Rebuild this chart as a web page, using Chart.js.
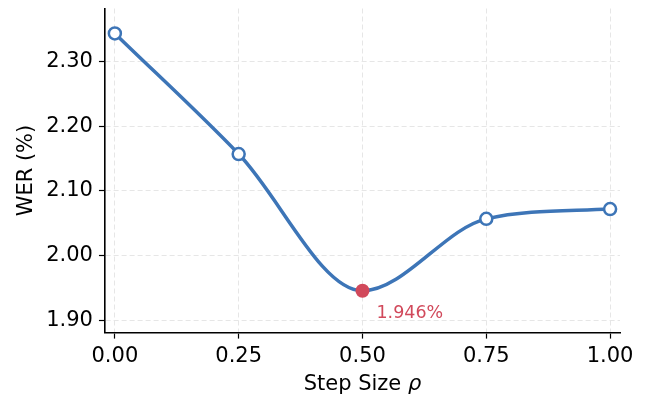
<!DOCTYPE html>
<html>
<head>
<meta charset="utf-8">
<script src="https://cdn.jsdelivr.net/npm/chart.js@4.4.1/dist/chart.umd.min.js"></script>
<style>
  html, body { margin: 0; padding: 0; background: #fff; }
  #wrap { width: 652px; height: 398px; }
</style>
</head>
<body>
<div id="wrap"><canvas id="grafico"></canvas></div>
<script>
// datos
const pasos = [0.00, 0.25, 0.50, 0.75, 1.00];
const wer = [2.343, 2.157, 1.946, 2.057, 2.072];
const ticksX = [0.00, 0.25, 0.50, 0.75, 1.00];
const ticksY = [1.90, 2.00, 2.10, 2.20, 2.30];
const mejorIndice = 2;
const etiquetaMejor = '1.946%';

const azul = '#3d75b7';
const rojo = '#d1495b';
const fuente = 'DejaVu Sans';

const puntos = pasos.map(function(x, i) { return { x: x, y: wer[i] }; });

// etiqueta del minimo y titulo del eje x con rho en cursiva
const etiquetaPlugin = {
    id: 'etiquetaMejor',
    afterDraw: function(chart) {
        const ctx = chart.ctx;
        const px = chart.scales.x.getPixelForValue(pasos[mejorIndice]);
        const py = chart.scales.y.getPixelForValue(wer[mejorIndice]);
        ctx.save();
        ctx.fillStyle = rojo;
        ctx.font = '17.5px "' + fuente + '"';
        ctx.textAlign = 'left';
        ctx.textBaseline = 'middle';
        ctx.fillText(etiquetaMejor, px + 14, py + 23);

        const area = chart.chartArea;
        const cx = (area.left + area.right) / 2;
        const parte1 = 'Step Size ';
        const parte2 = 'ρ';
        ctx.font = '21px "' + fuente + '"';
        const w1 = ctx.measureText(parte1).width;
        ctx.font = 'italic 21px "' + fuente + '"';
        const w2 = ctx.measureText(parte2).width;
        let x0 = cx - (w1 + w2) / 2;
        ctx.fillStyle = '#000';
        ctx.textBaseline = 'middle';
        ctx.font = '21px "' + fuente + '"';
        ctx.fillText(parte1, x0, 385);
        ctx.font = 'italic 21px "' + fuente + '"';
        ctx.fillText(parte2, x0 + w1, 385);
        ctx.restore();
    }
};

const ctx = document.getElementById('grafico').getContext('2d');
new Chart(ctx, {
    type: 'line',
    data: {
        datasets: [{
            data: puntos,
            borderColor: azul,
            borderWidth: 3.5,
            cubicInterpolationMode: 'monotone',
            pointRadius: pasos.map(function(p, i) { return i === mejorIndice ? 7 : 6; }),
            pointBorderWidth: pasos.map(function(p, i) { return i === mejorIndice ? 0 : 2.5; }),
            pointBackgroundColor: pasos.map(function(p, i) { return i === mejorIndice ? rojo : '#ffffff'; }),
            pointBorderColor: pasos.map(function(p, i) { return i === mejorIndice ? rojo : azul; }),
            clip: false
        }]
    },
    options: {
        responsive: true,
        maintainAspectRatio: false,
        animation: false,
        layout: { padding: { left: 14, right: 32, top: 8, bottom: 0 } },
        plugins: {
            legend: { display: false },
            tooltip: { enabled: false }
        },
        scales: {
            x: {
                type: 'linear',
                min: -0.02,
                max: 1.02,
                afterBuildTicks: function(axis) {
                    axis.ticks = ticksX.map(function(v) { return { value: v }; });
                },
                afterFit: function(axis) {
                    axis.height = axis.height - 1;
                },
                ticks: {
                    color: '#000',
                    font: { family: fuente, size: 21 },
                    padding: 5,
                    maxRotation: 0,
                    callback: function(v) { return Number(v).toFixed(2); }
                },
                grid: {
                    color: '#e6e6e6',
                    tickColor: '#000',
                    tickLength: 6,
                    tickWidth: 1.2,
                    lineWidth: 1
                },
                border: { color: '#000', width: 1.6, dash: [5, 3] },
                title: {
                    display: true,
                    text: 'Step Size ρ',
                    color: 'rgba(0,0,0,0)',
                    font: { family: fuente, size: 21 },
                    padding: { top: 0, bottom: 0 }
                }
            },
            y: {
                type: 'linear',
                min: 1.8815,
                max: 2.3815,
                afterBuildTicks: function(axis) {
                    axis.ticks = ticksY.map(function(v) { return { value: v }; });
                },
                afterFit: function(axis) {
                    axis.paddingTop = 0;
                    axis.paddingBottom = 0;
                },
                ticks: {
                    color: '#000',
                    font: { family: fuente, size: 21 },
                    padding: 6,
                    callback: function(v) { return Number(v).toFixed(2); }
                },
                grid: {
                    color: '#e6e6e6',
                    tickColor: '#000',
                    tickLength: 6,
                    tickWidth: 1.2,
                    lineWidth: 1
                },
                border: { color: '#000', width: 1.6, dash: [5, 3] },
                title: {
                    display: true,
                    text: 'WER (%)',
                    color: '#000',
                    font: { family: fuente, size: 21 },
                    padding: { top: 0, bottom: 1 }
                }
            }
        }
    },
    plugins: [etiquetaPlugin]
});
</script>
</body>
</html>
